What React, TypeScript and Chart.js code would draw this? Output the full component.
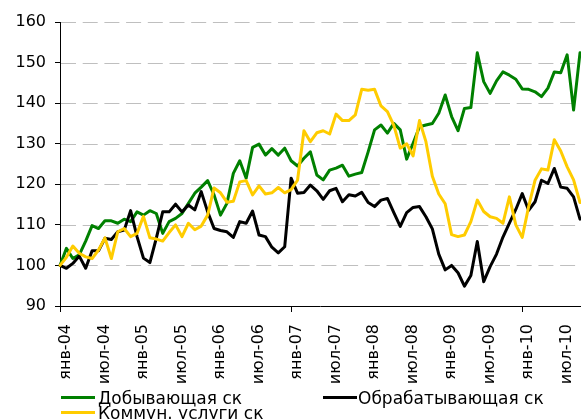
import React, { useEffect, useRef } from 'react';
import { Chart, registerables } from 'chart.js';

Chart.register(...registerables);

// Tick labels, one every 6 months (Jan 2004 .. Jul 2010)
const tickLabels = [
  'янв-04', 'июл-04', 'янв-05', 'июл-05', 'янв-06', 'июл-06', 'янв-07',
  'июл-07', 'янв-08', 'июл-08', 'янв-09', 'июл-09', 'янв-10', 'июл-10',
];

const seriesNames = ['Добывающая ск', 'Обрабатывающая ск', 'Коммун. услуги ск'];
const seriesColors = ['#008000', '#000000', '#FFCC00'];

// Monthly values, Jan 2004 .. Oct 2010
const dobyv = [
  100, 104.2, 101.7, 102.6, 106, 109.8, 109.1, 111, 111, 110.4,
  111.4, 110.8, 113.2, 112.4, 113.5, 112.8, 107.9, 110.8, 111.6, 112.8,
  115.3, 117.8, 119.3, 120.9, 117.4, 112.4, 115.3, 122.7, 125.8, 121.5,
  129.1, 129.9, 127.2, 128.8, 127.2, 128.9, 125.8, 124.5, 126.4, 128,
  122.3, 121.1, 123.5, 124, 124.7, 122, 122.5, 122.9, 128, 133.4,
  134.6, 132.6, 135, 133.4, 126.2, 130.1, 134.2, 134.6, 135, 137.5,
  142, 136.7, 133.2, 138.7, 138.9, 152.4, 145.3, 142.4, 145.5, 147.7,
  146.9, 145.9, 143.5, 143.4, 142.8, 141.6, 143.7, 147.7, 147.5, 151.9,
  138.3, 152.4,
];

const obrab = [
  100, 99.3, 100.5, 102.3, 99.3, 103.6, 103.6, 106.7, 106.4, 108.3,
  108.7, 113.5, 107.1, 101.8, 100.7, 106.7, 113.2, 113.2, 115.1, 113.2,
  114.9, 113.7, 118.2, 113.2, 109.1, 108.6, 108.3, 106.9, 110.8, 110.4,
  113.4, 107.5, 107.1, 104.5, 103.1, 104.6, 121.5, 117.8, 118, 119.8,
  118.4, 116.3, 118.4, 119, 115.7, 117.4, 117.1, 118, 115.5, 114.5,
  116.1, 116.5, 113, 109.6, 113, 114.3, 114.5, 112, 109, 102.8,
  98.9, 100, 98.2, 94.9, 97.5, 105.9, 96, 99.7, 102.8, 107,
  110.4, 113.8, 117.7, 113.6, 115.7, 121, 120.2, 123.9, 119.3, 119,
  116.9, 111.4,
];

const kommun = [
  100, 102, 104.8, 103, 102.1, 101.7, 103.8, 106.8, 101.7, 108.3,
  109.1, 107.1, 107.9, 112.1, 106.8, 106.5, 106, 108.1, 110, 107.1,
  110.4, 108.8, 109.7, 112.4, 119.1, 117.9, 115.6, 115.8, 120.6, 120.9,
  117.4, 119.6, 117.6, 117.9, 119.2, 117.9, 118.7, 121, 133.2, 130.5,
  132.7, 133.2, 132.4, 137.3, 135.7, 135.7, 137.1, 143.4, 143.2, 143.4,
  139.3, 137.9, 134.5, 128.9, 130, 127, 135.7, 130.5, 122, 117.6,
  115.2, 107.6, 107.1, 107.5, 110.8, 116.1, 113.3, 112, 111.6, 110.4,
  116.9, 110, 106.9, 114.5, 121, 123.8, 123.5, 131, 128.2, 124.3,
  121.1, 115.5,
];

const yMin = 90;
const yMax = 160;
const yStep = 10;

const W = 581;
const H = 419;
const FONT = "'DejaVu Sans', Verdana, sans-serif";

// Dashed horizontal gridlines drawn under the datasets, at the y scale's ticks
const dashedGrid = {
  id: 'dashedGrid',
  beforeDatasetsDraw(chart: any) {
    const { ctx, chartArea, scales } = chart;
    const y = scales.y;
    ctx.save();
    ctx.strokeStyle = '#bfbfbf';
    ctx.lineWidth = 1;
    ctx.setLineDash([15, 6.7]);
    y.ticks.forEach((t: any) => {
      if (t.value === yMin) return;
      const py = Math.round(y.getPixelForValue(t.value)) + 0.5;
      ctx.beginPath();
      ctx.moveTo(chartArea.left + 1, py);
      ctx.lineTo(chartArea.right + 5, py);
      ctx.stroke();
    });
    ctx.restore();
  },
};

function LegendItem(props: { left: number; lineY: number; textLeft: number; textTop: number; color: string; text: string }) {
  return (
    <>
      <div
        style={{
          position: 'absolute',
          left: props.left,
          top: props.lineY - 1.5,
          width: 34,
          height: 3,
          background: props.color,
        }}
      />
      <div
        style={{
          position: 'absolute',
          left: props.textLeft,
          top: props.textTop,
          fontFamily: FONT,
          fontSize: 17,
          lineHeight: '17px',
          color: '#000',
          whiteSpace: 'nowrap',
        }}
      >
        {props.text}
      </div>
    </>
  );
}

export default function App() {
  const ref = useRef<HTMLCanvasElement>(null);

  useEffect(() => {
    const labels = dobyv.map((_, i) => i);
    const chart = new Chart(ref.current as HTMLCanvasElement, {
      type: 'line',
      data: {
        labels,
        datasets: [
          { label: seriesNames[0], data: dobyv, borderColor: seriesColors[0], backgroundColor: seriesColors[0], order: 3 },
          { label: seriesNames[1], data: obrab, borderColor: seriesColors[1], backgroundColor: seriesColors[1], order: 2 },
          { label: seriesNames[2], data: kommun, borderColor: seriesColors[2], backgroundColor: seriesColors[2], order: 1 },
        ],
      },
      options: {
        animation: false,
        responsive: false,
        devicePixelRatio: 1,
        layout: { padding: { left: 0, right: 1, top: 22, bottom: 0 } },
        plugins: { legend: { display: false }, tooltip: { enabled: false } },
        elements: {
          point: { radius: 0 },
          line: { borderWidth: 3, tension: 0, borderJoinStyle: 'round', borderCapStyle: 'round' },
        },
        scales: {
          x: {
            type: 'category',
            offset: false,
            grid: {
              drawOnChartArea: false,
              drawTicks: true,
              tickLength: 6,
              tickColor: (ctx: any) => (ctx.index % 6 === 0 ? '#000' : 'rgba(0,0,0,0)'),
              color: '#000',
            },
            border: { display: true, color: '#000', width: 1 },
            ticks: {
              autoSkip: false,
              maxRotation: 90,
              minRotation: 90,
              padding: 12,
              labelOffset: 6,
              color: '#000',
              font: { family: FONT, size: 16 },
              callback: (_v: any, i: number) => (i % 6 === 0 ? tickLabels[i / 6] : null),
            },
            afterFit: (s: any) => {
              s.height = H - 306;
              s.paddingLeft = 0;
              s.paddingRight = 0;
            },
          },
          y: {
            min: yMin,
            max: yMax,
            ticks: {
              stepSize: yStep,
              padding: 9,
              color: '#000',
              font: { family: FONT, size: 16 },
            },
            grid: {
              drawOnChartArea: false,
              tickColor: '#000',
              tickLength: 5,
              lineWidth: 1,
            },
            border: { display: true, color: '#000', width: 1 },
            afterFit: (s: any) => {
              s.width = 60;
            },
          },
        },
      },
      plugins: [dashedGrid],
    } as any);
    return () => chart.destroy();
  }, []);

  return (
    <div style={{ position: 'absolute', left: 0, top: 0, width: W, height: H, overflow: 'hidden', background: '#fff' }}>
      <canvas ref={ref} width={W} height={H} style={{ position: 'absolute', left: 0, top: 0 }} />
      <LegendItem left={61} lineY={397} textLeft={98} textTop={389.6} color={seriesColors[0]} text={seriesNames[0]} />
      <LegendItem left={323} lineY={397} textLeft={358} textTop={389.6} color={seriesColors[1]} text={seriesNames[1]} />
      <LegendItem left={61} lineY={412.5} textLeft={98} textTop={405.3} color={seriesColors[2]} text={seriesNames[2]} />
    </div>
  );
}
